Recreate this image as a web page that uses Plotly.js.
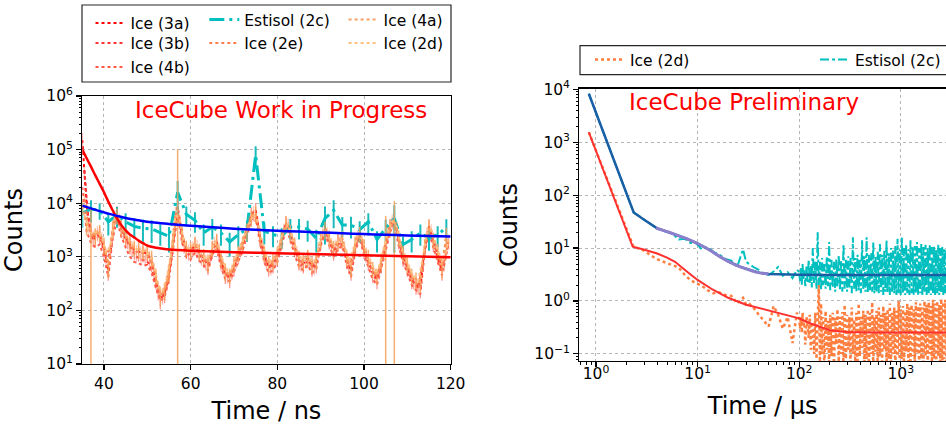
<!DOCTYPE html>
<html><head><meta charset="utf-8">
<script src="https://cdn.plot.ly/plotly-3.0.1.min.js"></script>
<style>html,body{margin:0;padding:0;background:#fff;}#chart{width:946px;height:427px;}</style>
</head><body><div id="chart"></div>
<script>
// ---------- Left panel (time in ns) ----------
const tNsInt = [35,36,37,38,39,40,41,42,43,44,45,46,47,48,49,50,51,52,53,54,55,56,57,58,59,60,61,62,63,64,65,66,67,68,69,70,71,72,73,74,75,76,77,78,79,80,81,82,83,84,85,86,87,88,89,90,91,92,93,94,95,96,97,98,99,100,101,102,103,104,105,106,107,108,109,110,111,112,113,114,115,116,117,118,119];
const tNsHalf = [35.5,36.5,37.5,38.5,39.5,40.5,41.5,42.5,43.5,44.5,45.5,46.5,47.5,48.5,49.5,50.5,51.5,52.5,53.5,54.5,55.5,56.5,57.5,58.5,59.5,60.5,61.5,62.5,63.5,64.5,65.5,66.5,67.5,68.5,69.5,70.5,71.5,72.5,73.5,74.5,75.5,76.5,77.5,78.5,79.5,80.5,81.5,82.5,83.5,84.5,85.5,86.5,87.5,88.5,89.5,90.5,91.5,92.5,93.5,94.5,95.5,96.5,97.5,98.5,99.5,100.5,101.5,102.5,103.5,104.5,105.5,106.5,107.5,108.5,109.5,110.5,111.5,112.5,113.5,114.5,115.5,116.5,117.5,118.5,119.5];
const tNsOdd = [35,37,39,41,43,45,47,49,51,53,55,57,59,61,63,65,67,69,71,73,75,77,79,81,83,85,87,89,91,93,95,97,99,101,103,105,107,109,111,113,115,117,119];

const ice3a = [150000,9000,2800,2300,2700,1500,550,3200,6500,3400,
 2300,1700,1350,1250,1200,1150,800,380,160,210,
 480,2000,8500,2600,1400,1250,1700,1200,950,700,
 1400,1900,850,480,400,650,1100,1700,3200,6200,
 7500,2400,1100,650,750,1000,2100,4200,2700,1500,
 850,750,950,650,750,2100,3400,2100,1300,1900,
 2100,900,550,1700,2800,1400,850,500,380,750,
 1700,3800,5200,2100,1000,650,380,300,260,1500,
 3700,1900,1100,550,2500];
const ice3b = [40000,4000,2000,2600,1900,900,1200,5200,4800,2600,
 1800,1300,1000,900,850,750,450,200,170,300,
 900,5500,4200,1500,1100,1300,1400,900,750,900,
 1600,1200,600,420,480,800,1300,2300,4200,6000,
 3800,1500,800,600,850,1400,3000,3600,1900,1100,
 700,800,750,600,1200,2600,2500,1500,1400,1900,
 1300,650,1000,2100,1900,1000,650,420,500,1100,
 2500,4300,3300,1400,800,480,320,260,700,2400,
 2800,1400,800,700,1800];
const ice4b = [20000,3000,1800,1500,1700,1000,420,2200,4800,2400,
 1500,1000,800,750,700,700,500,260,150,180,
 380,1500,6500,1900,1000,900,1200,850,700,550,
 1100,1400,650,380,350,520,850,1300,2500,5000,
 5600,1800,800,500,560,800,1600,3300,2100,1100,
 650,560,700,500,600,1600,2700,1700,1000,1400,
 1600,700,420,1300,2200,1100,650,380,300,600,
 1300,2900,4100,1600,800,500,300,240,200,1200,
 2900,1500,850,450,1900];
const ice2e = [12000,3500,2400,2900,2200,1100,1500,5600,5000,2900,
 2000,1500,1250,1200,1150,1000,600,250,200,350,
 1100,6500,4800,1700,1300,1500,1600,1050,850,1000,
 1800,1400,700,480,550,900,1400,2500,4500,6800,
 4300,1700,900,700,950,1600,3200,4000,2100,1200,
 800,900,850,700,1400,2900,2800,1700,1600,2100,
 1500,750,1200,2400,2100,1150,750,480,560,1200,
 2800,4800,3600,1500,900,550,360,300,800,2700,
 3100,1600,900,800,2000];
const ice4a = [9000,4000,3000,2500,2900,1700,650,3400,6000,3600,
 2500,1900,1500,1400,1300,1300,950,450,190,240,
 520,2100,7500,2700,1500,1400,1800,1300,1050,800,
 1500,2000,950,550,450,750,1200,1800,3100,5500,
 6500,2600,1200,750,850,1100,2200,4300,2900,1700,
 950,850,1000,750,850,2200,3300,2300,1500,2000,
 2200,1000,650,1800,2700,1600,1000,600,450,850,
 1800,3600,5000,2300,1200,750,450,380,330,1600,
 3600,2100,1300,650,2600];
const err4a = [3000,1500,5000,900,1000,600,250,1200,2000,1200,
 900,700,500,500,450,450,350,150,70,90,
 180,700,95000,900,500,500,600,450,350,300,
 500,700,350,200,150,250,400,600,1100,1900,
 2300,900,400,250,300,400,800,1500,1000,600,
 350,300,350,250,300,800,1200,800,500,700,
 800,350,250,600,900,550,350,200,150,300,
 4000,1300,6000,800,400,250,150,130,120,550,
 1300,700,450,250,900];
const ice2d = [6000,3200,2600,3000,2300,1200,1600,5400,5200,3100,
 2200,1700,1400,1300,1250,1100,700,300,230,400,
 1200,6000,5000,1800,1400,1600,1700,1150,900,1100,
 1900,1500,800,550,600,1000,1500,2600,4300,6200,
 4500,1800,1000,800,1000,1700,3300,3900,2200,1300,
 900,950,900,800,1500,3000,2900,1800,1700,2200,
 1600,850,1300,2500,2200,1250,800,550,650,1300,
 2900,4700,3700,1600,1000,600,420,360,900,2800,
 3200,1700,1000,850,2100];
const est2c = [6500,7800,7400,4500,6000,4500,3700,3400,3300,2800,
 2400,16000,6200,4800,2800,3600,2800,1900,2600,3300,
 80000,3000,2600,2400,3600,3600,3300,2200,5200,7400,
 3900,3900,3200,4500,2100,3400,5200,1700,2100,2800,
 2200,2600,3500];
const errEst2c = [3000,3500,2500,2000,2500,2000,1500,1500,1500,1200,
 1200,10000,2500,2000,1200,1500,1200,900,1100,1400,
 35000,1300,1100,1000,1500,1500,1400,1000,3500,4000,
 1600,1700,1400,2000,900,1500,4000,700,900,1200,
 900,1100,1500];
const redFitNsT = [35,36,37,38,39,40,41,42,43,44,45,46,47,48,49,50,52,54,56,60,65,70,80,90,100,110,120];
const redFitNsY = [100000,69000,48000,33000,23000,16000,10700,7400,5200,3900,3100,2600,2300,2000,1800,1620,1480,1400,1350,1300,1260,1220,1170,1120,1070,1020,980];
const blueFitNsT = [35,37,39,41,43,45,48,51,55,60,65,70,75,80,85,90,95,100,105,110,115,120];
const blueFitNsY = [9000,8000,7100,6400,5800,5300,4800,4400,4100,3800,3550,3350,3200,3050,2950,2850,2750,2650,2580,2500,2450,2400];

// ---------- Right panel (time in µs) ----------
const tEarly = [0.85,2.35,2.8,3.3,3.85,4.4,5.0,5.7,6.5,7.5,8.5,9.7,11,12.5,14.3,16.4,18.8,21.5,24.5,28,30,32,36,40,45,50,56,62,69,77,86,95];
const iceEarly = [1550,10.4,9.6,7.7,6.4,5.7,5.2,4.6,4.3,3.1,2.5,2.15,1.95,1.6,1.4,1.45,1.3,1.25,0.9,1.15,0.85,0.9,0.72,0.55,0.42,0.33,0.8,0.55,0.3,0.5,0.16,0.6];
const estEarly = [8300,47,38,30,24.5,22,20,18.5,14.5,15,12.5,12.3,9.5,10.5,8.5,7.5,6.2,5.8,4.4,9.5,5.5,5.0,4.3,3.9,3.2,3.1,3.6,4.4,3.0,3.5,2.7,3.9];
const tLate = [100,102,104,106,108,110,112,115,118,121,
 124,127,130,133,136,140,144,148,152,156,
 160,164,168,172,177,182,187,192,197,202,
 208,214,220,226,232,238,245,252,259,266,
 273,280,288,296,304,312,320,329,338,347,
 356,365,375,385,395,405,416,427,438,449,
 461,473,485,497,510,523,536,550,564,578,
 593,608,623,639,655,672,689,706,724,742,
 761,780,800,820,841,862,884,906,929,952,
 976,1000,1025,1050,1076,1103,1130,1158,1187,1216,
 1246,1277,1309,1341,1374,1408,1443,1479,1516,1553,
 1591,1630,1670,1711,1753,1796,1840,1885,1931,1978,
 2026,2075,2125,2176,2228,2281,2335,2390,2446,2503,
 2561,2620,2680,2741,2803];
const iceLate = [0.45,0.3,0.5,0.25,0.6,0.35,0.4,0.15,0.5,0.3,
 0.2,0.55,0.12,0.4,0.3,0.1,0.6,0.08,0.45,2.0,
 0.07,0.9,0.1,0.5,0.05,0.65,0.12,0.42,0.06,0.55,
 0.09,0.6,0.05,0.48,0.15,0.7,0.07,0.5,0.1,0.62,
 0.05,0.85,0.08,0.55,0.12,0.5,0.06,0.75,0.1,0.45,
 0.07,0.6,0.05,0.9,0.09,0.5,0.13,0.65,0.06,0.55,
 0.08,0.7,0.05,0.6,0.1,0.95,0.06,0.5,0.11,0.65,
 0.05,0.75,0.09,0.55,0.07,0.8,0.12,0.6,0.05,0.7,
 0.08,0.9,0.06,0.6,0.1,0.75,0.05,0.65,0.09,1.0,
 0.06,0.7,0.08,0.8,0.05,0.65,0.11,0.9,0.07,0.75,
 0.05,0.85,0.09,0.7,0.06,0.95,0.1,0.8,0.05,0.9,
 0.08,0.75,0.06,1.0,0.09,0.85,0.05,0.95,0.1,0.8,
 0.06,1.05,0.08,0.9,0.05,1.0,0.09,0.85,0.07,1.1,
 0.05,0.95,0.08,1.05,0.06];
const estLate = [3.5,2.4,4.2,2.0,5.0,2.6,3.8,1.9,4.5,2.3,
 6.0,2.1,4.8,1.8,10.0,2.2,5.5,1.7,20.0,2.0,
 5.5,1.6,6.5,2.0,5.0,1.7,7.0,1.9,13.0,1.6,
 6.0,1.8,5.5,1.5,6.5,1.9,7.5,1.6,5.8,1.5,
 12.0,1.7,6.0,1.5,7.0,1.8,6.5,1.4,16.0,1.7,
 6.5,1.5,7.5,1.6,6.0,1.4,14.0,1.6,7.0,1.5,
 16.0,1.4,7.5,1.6,8.0,1.5,13.0,1.4,7.0,1.5,
 8.5,1.4,12.0,1.5,7.5,1.3,9.0,1.5,14.0,1.4,
 8.0,1.3,10.0,1.5,9.0,1.4,11.0,1.3,15.0,1.4,
 9.5,1.3,16.0,1.4,10.0,1.3,12.0,1.4,9.5,1.3,
 14.0,1.4,10.5,1.3,11.0,1.4,13.0,1.3,10.0,1.4,
 12.0,1.3,10.5,1.4,11.5,1.3,10.0,1.4,12.0,1.3,
 10.5,1.4,11.0,1.3,9.5,1.4,11.5,1.3,10.0,1.4,
 10.5,1.3,9.5,1.4,10.0];
const redFitUsT = [0.85,2.3,3,4,5,6,8,10,14,20,30,48,75,100,127,160,200,250,300,500,1000,2803];
const redFitUsY = [1550,10.6,9.3,7.9,6.6,5.5,3.5,2.5,1.65,1.15,0.85,0.68,0.54,0.47,0.38,0.32,0.28,0.265,0.258,0.255,0.255,0.255];
const blueFitUsT = [0.85,2.35,3,4,5,6,8,10,13,16.6,20,26,33,41,50,65,100,200,500,2803];
const blueFitUsY = [8300,47,34,23.6,20.5,18.2,14.8,12.2,9.3,6.9,5.6,4.45,3.8,3.4,3.25,3.2,3.15,3.1,3.1,3.1];
const purpleFitUsT = [3.9,5,6,8,10,13,16.6,20,26,33,41,50];
const purpleFitUsY = [24,20.5,18.2,14.8,12.2,9.3,6.9,5.6,4.45,3.8,3.4,3.25];

// ---------- Tick labels ----------
const nsTicks = [40,60,80,100,120];
const countTicksL = [10,100,1000,10000,100000,1000000];
const countTickTextL = ['10<sup>1</sup>','10<sup>2</sup>','10<sup>3</sup>','10<sup>4</sup>','10<sup>5</sup>','10<sup>6</sup>'];
const usTicks = [1,10,100,1000];
const usTickText = ['10<sup>0</sup>','10<sup>1</sup>','10<sup>2</sup>','10<sup>3</sup>'];
const countTicksR = [0.1,1,10,100,1000,10000];
const countTickTextR = ['10<sup>\u22121</sup>','10<sup>0</sup>','10<sup>1</sup>','10<sup>2</sup>','10<sup>3</sup>','10<sup>4</sup>'];

// ---------- Build ----------
const FONT = 'DejaVu Sans, Verdana, sans-serif';
function iceTrace(name, x, y, color, errColor, legend, errArr, pct) {
  const t = {
    type: 'scatter', mode: 'lines', name: name, x: x, y: y,
    line: {color: color, dash: 'dot', width: 2},
    legend: legend, xaxis: 'x', yaxis: 'y'
  };
  if (errArr) t.error_y = {type: 'data', array: errArr, color: errColor, thickness: 1.5, width: 0};
  else if (pct) t.error_y = {type: 'percent', value: pct, color: errColor, thickness: 1.3, width: 0};
  return t;
}
const traces = [
  iceTrace('Ice (3a)', tNsInt, ice3a, '#ff0000', 'rgba(255,20,20,0.45)', 'legend', null, 35),
  iceTrace('Ice (3b)', tNsHalf, ice3b, '#ff3535', 'rgba(255,70,70,0.35)', 'legend2', null, 25),
  iceTrace('Ice (4b)', tNsInt, ice4b, '#ff5a45', 'rgba(255,100,80,0.4)', 'legend3', null, 0),
  {type: 'scatter', mode: 'lines', name: 'Estisol (2c)', x: tNsOdd, y: est2c,
   line: {color: '#00bfbf', dash: '15px,5px,3px,5px', width: 3},
   error_y: {type: 'data', array: errEst2c, color: 'rgba(0,180,180,0.9)', thickness: 2, width: 0},
   legend: 'legend4', xaxis: 'x', yaxis: 'y'},
  iceTrace('Ice (2e)', tNsHalf, ice2e, '#ff7f50', 'rgba(255,140,90,0.45)', 'legend5', null, 30),
  iceTrace('Ice (4a)', tNsInt, ice4a, '#fa9f60', 'rgba(245,160,90,0.85)', 'legend6', err4a),
  iceTrace('Ice (2d)', tNsHalf, ice2d, '#ffbf80', 'rgba(255,195,140,0.5)', 'legend7', null, 0),
  {type: 'scatter', mode: 'lines', name: 'fit ice', x: redFitNsT, y: redFitNsY, showlegend: false,
   line: {color: '#ff0000', width: 2.5, shape: 'spline'}, xaxis: 'x', yaxis: 'y'},
  {type: 'scatter', mode: 'lines', name: 'fit estisol', x: blueFitNsT, y: blueFitNsY, showlegend: false,
   line: {color: '#0000ff', width: 2.5, shape: 'spline'}, xaxis: 'x', yaxis: 'y'},
  // right panel
  {type: 'scatter', mode: 'lines', name: 'Ice (2d)', x: tEarly.concat(tLate), y: iceEarly.concat(iceLate),
   line: {color: '#ff7f40', dash: 'dot', width: 2.5}, legend: 'legend8', xaxis: 'x2', yaxis: 'y2'},
  {type: 'scatter', mode: 'lines', name: 'Estisol (2c)', x: tEarly.concat(tLate), y: estEarly.concat(estLate),
   line: {color: '#00bfbf', dash: 'dashdot', width: 2}, legend: 'legend9', xaxis: 'x2', yaxis: 'y2'},
  {type: 'scatter', mode: 'lines', name: 'fit estisol us', x: blueFitUsT, y: blueFitUsY, showlegend: false,
   line: {color: '#1a5fa5', width: 2.5}, xaxis: 'x2', yaxis: 'y2'},
  {type: 'scatter', mode: 'lines', name: 'fit estisol us 2', x: purpleFitUsT, y: purpleFitUsY, showlegend: false,
   line: {color: '#8c80cc', width: 3, shape: 'spline'}, xaxis: 'x2', yaxis: 'y2'},
  {type: 'scatter', mode: 'lines', name: 'fit ice us', x: redFitUsT, y: redFitUsY, showlegend: false,
   line: {color: '#ff3030', width: 2}, xaxis: 'x2', yaxis: 'y2'}
];

const axBase = {
  showline: true, linecolor: '#000', linewidth: 1.2, ticks: 'outside', ticklen: 5, tickwidth: 1.2, tickcolor: '#000',
  showgrid: true, gridcolor: '#b5b5b5', griddash: 'dot', gridwidth: 1, zeroline: false, automargin: false,
  tickfont: {family: FONT, size: 15.5, color: '#000'}
};
const minorLog = {ticks: 'outside', ticklen: 2.5, tickwidth: 1, tickcolor: '#000', showgrid: false, dtick: 'D1'};
const legBase = {bgcolor: 'rgba(0,0,0,0)', borderwidth: 0, font: {family: FONT, size: 15.5, color: '#000'},
  xanchor: 'left', yanchor: 'top', tracegroupgap: 0};
function leg(xpx, toppx, extra) {
  return Object.assign({}, legBase, {x: xpx / 946, y: 1 - toppx / 427}, extra || {});
}

const layout = {
  width: 946, height: 427, margin: {l: 0, r: 0, t: 0, b: 0, autoexpand: false},
  paper_bgcolor: '#fff', plot_bgcolor: '#fff',
  font: {family: FONT, size: 15.5, color: '#000'},
  xaxis: Object.assign({}, axBase, {domain: [0.0870, 0.4764], range: [35, 120], tickvals: nsTicks, mirror: true, anchor: 'y',
    title: {text: 'Time / ns', font: {family: FONT, size: 24, color: '#000'}, standoff: 10}}),
  yaxis: Object.assign({}, axBase, {domain: [0.1475, 0.7752], type: 'log', range: [1, 6], tickvals: countTicksL, ticktext: countTickTextL,
    mirror: true, anchor: 'x', minor: minorLog,
    title: {text: 'Counts', font: {family: FONT, size: 24, color: '#000'}, standoff: 17}}),
  xaxis2: Object.assign({}, axBase, {domain: [0.6124, 1], type: 'log', range: [-0.164, 3.445], tickvals: usTicks, ticktext: usTickText,
    mirror: true, anchor: 'y2', minor: minorLog, ticklabelstandoff: -7,
    title: {text: 'Time / µs', font: {family: FONT, size: 24, color: '#000'}, standoff: 15}}),
  yaxis2: Object.assign({}, axBase, {domain: [0.1539, 0.7927], type: 'log', range: [-1.14, 4.017], tickvals: countTicksR, ticktext: countTickTextR,
    mirror: false, anchor: 'x2', minor: minorLog,
    title: {text: 'Counts', font: {family: FONT, size: 24, color: '#000'}, standoff: 9}}),
  legend: leg(90.5, 6.3),
  legend2: leg(90.5, 26.5),
  legend3: leg(90.5, 50.3),
  legend4: leg(204.3, 3),
  legend5: leg(204.3, 26.5),
  legend6: leg(343.6, 3),
  legend7: leg(343.6, 26.5),
  legend8: leg(590, 43),
  legend9: Object.assign({}, legBase, {x: 1, xanchor: 'right', y: 1 - 43 / 427}),
  shapes: [
    {type: 'rect', xref: 'paper', yref: 'paper', x0: 82/946, x1: 451/946, y0: 1 - 82/427, y1: 1 - 5/427,
     line: {color: '#262626', width: 1.2}, fillcolor: 'rgba(0,0,0,0)'},
    {type: 'rect', xref: 'paper', yref: 'paper', x0: 580/946, x1: 1.05, y0: 1 - 74.7/427, y1: 1 - 45.7/427,
     line: {color: '#262626', width: 1.2}, fillcolor: 'rgba(0,0,0,0)'}
  ],
  annotations: [
    {text: 'IceCube Work in Progress', xref: 'paper', yref: 'paper', x: 133/946, y: 1 - 110/427,
     xanchor: 'left', yanchor: 'middle', showarrow: false, font: {family: FONT, size: 23, color: '#ff0000'}},
    {text: 'IceCube Preliminary', xref: 'paper', yref: 'paper', x: 627/946, y: 1 - 102/427,
     xanchor: 'left', yanchor: 'middle', showarrow: false, font: {family: FONT, size: 23, color: '#ff0000'}}
  ]
};
Plotly.newPlot('chart', traces, layout, {displayModeBar: false, staticPlot: true});
</script>
</body></html>
